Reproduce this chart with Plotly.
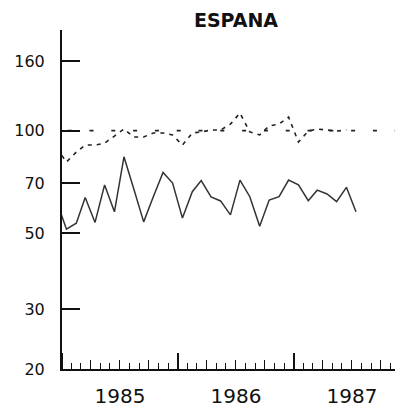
import pandas as pd
import plotly.graph_objects as go

# monthly observations, Dec 1984 .. Jul 1987 (plotted at mid-month)
months = pd.date_range("1984-12-01", periods=32, freq="MS") + pd.Timedelta(days=14)

serie_a = [62.2, 51.4, 53.5, 63.7, 53.8, 69.3, 57.8, 83.8, 67.4, 54.0, 63.9, 75.4,
           70.2, 55.4, 66.2, 71.4, 63.9, 62.2, 56.6, 71.6, 64.0, 52.4, 62.6, 64.0,
           71.6, 69.3, 62.3, 66.9, 65.2, 61.9, 68.2, 57.8]

serie_b = [88.9, 80.9, 86.5, 90.7, 90.7, 91.9, 96.4, 101.1, 95.8, 95.8, 98.4, 98.4,
           97.1, 90.7, 98.4, 99.1, 100.4, 100.4, 104.5, 112.6, 99.1, 97.1, 103.2, 104.5,
           109.6, 92.6, 99.7, 101.1, 100.4, 99.7, 100.4]

y_ticks = [20, 30, 50, 70, 100, 160]
ref_level = 100

x_start = "1985-01-01"
x_end = "1987-12-10"
font = "DejaVu Sans"

# la pagina html deja 8px de margen en el body
W, H = 395, 402

fig = go.Figure()

# linea de referencia (base 100)
fig.add_trace(go.Scatter(
    x=["1985-01-19", x_end], y=[ref_level, ref_level],
    mode="lines", line=dict(color="#222", width=1.6, dash="4px,17.8px"),
    hoverinfo="skip", showlegend=False
))

fig.add_trace(go.Scatter(
    x=months[:len(serie_b)], y=serie_b,
    mode="lines", line=dict(color="#222", width=1.6, dash="4px,5px"),
    showlegend=False
))

fig.add_trace(go.Scatter(
    x=months[:len(serie_a)], y=serie_a,
    mode="lines", line=dict(color="#333", width=1.5),
    showlegend=False
))

# trimestres: ticks intermedios en un eje superpuesto
fig.add_trace(go.Scatter(x=[x_start], y=[None], xaxis="x2", showlegend=False))

fig.update_layout(
    width=W, height=H,
    margin=dict(l=54, r=0, t=22, b=41),
    paper_bgcolor="white", plot_bgcolor="white",
    title=dict(text="ESPANA", x=(236 - 8) / W, xanchor="center",
               y=1 - 12 / H, yanchor="middle",
               font=dict(family=font, size=19, color="#111", weight="bold")),
    xaxis=dict(
        type="date", range=[x_start, x_end],
        tick0="1985-01-01", dtick="M12", tickformat="%Y",
        ticklabelmode="period", ticks="inside", ticklen=16, tickwidth=1.5,
        tickcolor="#111", ticklabelstandoff=8,
        minor=dict(ticks="inside", dtick="M1", ticklen=6, tickwidth=1.2, tickcolor="#111"),
        showline=True, linecolor="#111", linewidth=2, showgrid=False, zeroline=False,
        tickfont=dict(family=font, size=20, color="#111"),
    ),
    xaxis2=dict(
        type="date", range=[x_start, x_end], overlaying="x", side="bottom",
        tick0="1985-01-01", dtick="M3", ticks="inside", ticklen=9, tickwidth=1.2,
        tickcolor="#111", showticklabels=False, showgrid=False, zeroline=False,
    ),
    yaxis=dict(
        type="log", range=[1.30103, 2.295],
        tickvals=y_ticks, ticktext=[str(v) for v in y_ticks],
        ticks="inside", ticklen=18, tickwidth=1.5, tickcolor="#111",
        ticklabelstandoff=12,
        showline=True, linecolor="#111", linewidth=2, showgrid=False, zeroline=False,
        tickfont=dict(family=font, size=16, color="#111"),
    ),
)

fig.write_html("out.html")
